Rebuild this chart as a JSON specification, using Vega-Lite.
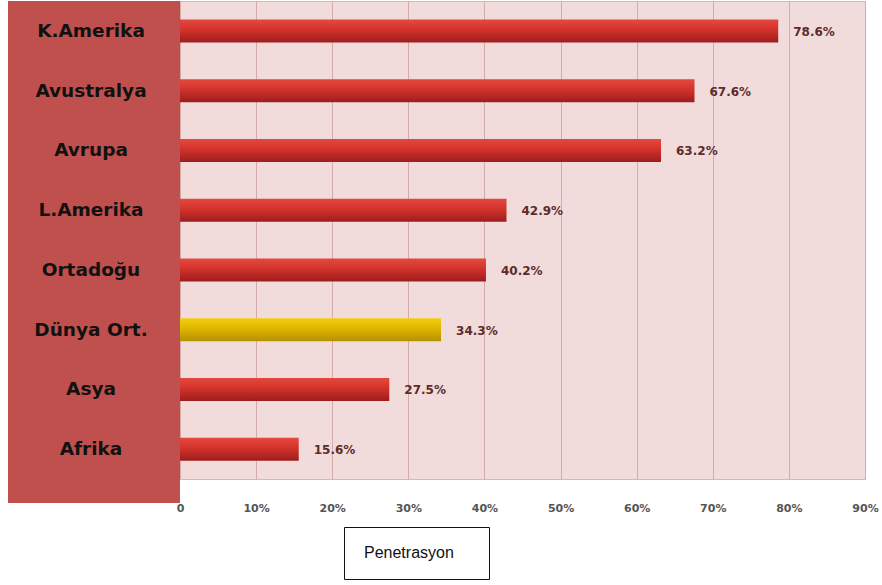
{
  "$schema": "https://vega.github.io/schema/vega-lite/v6.json",
  "background": "white",
  "padding": {"left": 8, "top": 0, "right": 10, "bottom": 0},
  "bounds": "flush",
  "spacing": 0,
  "data": {
    "values": [
      {"bolge": "K.Amerika", "oran": 0.786, "seri": "Penetrasyon"},
      {"bolge": "Avustralya", "oran": 0.676, "seri": "Penetrasyon"},
      {"bolge": "Avrupa", "oran": 0.632, "seri": "Penetrasyon"},
      {"bolge": "L.Amerika", "oran": 0.429, "seri": "Penetrasyon"},
      {"bolge": "Ortadoğu", "oran": 0.402, "seri": "Penetrasyon"},
      {"bolge": "Dünya Ort.", "oran": 0.343, "seri": "Penetrasyon"},
      {"bolge": "Asya", "oran": 0.275, "seri": "Penetrasyon"},
      {"bolge": "Afrika", "oran": 0.156, "seri": "Penetrasyon"}
    ]
  },
  "hconcat": [
    {
      "width": 172,
      "height": 502,
      "view": {"fill": "#c0504d", "stroke": null},
      "mark": {"type": "text", "font": "DejaVu Sans", "fontWeight": "bold", "fontSize": 18.5, "color": "#111111", "align": "center", "dx": -3},
      "encoding": {
        "y": {"field": "bolge", "type": "nominal", "sort": null, "axis": null,
              "scale": {"domain": ["K.Amerika", "Avustralya", "Avrupa", "L.Amerika", "Ortadoğu", "Dünya Ort.", "Asya", "Afrika"],
                        "range": [0, 478], "paddingInner": 0, "paddingOuter": 0}},
        "text": {"field": "bolge"}
      }
    },
    {
      "width": 685,
      "height": 478,
      "view": {"fill": "#f2dcdb", "stroke": "#c9bcbc"},
      "encoding": {
        "y": {"field": "bolge", "type": "nominal", "sort": null, "axis": null,
              "scale": {"domain": ["K.Amerika", "Avustralya", "Avrupa", "L.Amerika", "Ortadoğu", "Dünya Ort.", "Asya", "Afrika"],
                        "paddingInner": 0, "paddingOuter": 0}},
        "x": {"field": "oran", "type": "quantitative",
              "scale": {"domain": [0, 0.9], "nice": false},
              "axis": {"values": [0, 0.1, 0.2, 0.3, 0.4, 0.5, 0.6, 0.7, 0.8, 0.9],
                       "labelExpr": "datum.value == 0 ? '0' : format(datum.value, '.0%')",
                       "title": null, "domain": false, "ticks": false, "labelFlush": false,
                       "grid": true, "gridColor": "#d3abab", "gridWidth": 1,
                       "labelFont": "DejaVu Sans", "labelFontWeight": "bold", "labelFontSize": 11,
                       "labelColor": "#555555", "labelPadding": 23}}
      },
      "layer": [
        {
          "transform": [{"filter": "datum.bolge != 'Dünya Ort.'"}],
          "mark": {"type": "bar", "size": 23,
                   "color": {"gradient": "linear", "x1": 0, "y1": 0, "x2": 0, "y2": 1,
                             "stops": [{"offset": 0, "color": "#e3493f"}, {"offset": 0.4, "color": "#d6352d"}, {"offset": 1, "color": "#9e1d1d"}]}}
        },
        {
          "transform": [{"filter": "datum.bolge == 'Dünya Ort.'"}],
          "mark": {"type": "bar", "size": 23,
                   "color": {"gradient": "linear", "x1": 0, "y1": 0, "x2": 0, "y2": 1,
                             "stops": [{"offset": 0, "color": "#f2cf14"}, {"offset": 0.4, "color": "#e2b900"}, {"offset": 1, "color": "#b59200"}]}}
        },
        {
          "mark": {"type": "text", "align": "left", "dx": 15, "dy": 1, "font": "DejaVu Sans", "fontWeight": "bold", "fontSize": 12},
          "encoding": {
            "text": {"field": "oran", "type": "quantitative", "format": ".1%"},
            "color": {"field": "seri", "type": "nominal",
                      "scale": {"range": ["#5b2c2c"]},
                      "legend": {"orient": "none", "legendX": 336, "legendY": 526,
                                 "title": null, "symbolOpacity": 0, "symbolSize": 0, "symbolStrokeWidth": 0,
                                 "labelFont": "Liberation Sans", "labelFontSize": 16, "labelColor": "#111111",
                                 "labelOffset": -14, "padding": 18,
                                 "labelExpr": "datum.label + '\u00a0\u2800'",
                                 "strokeColor": "#111111",
                                 "fillColor": "white"}}
          }
        }
      ]
    }
  ]
}
